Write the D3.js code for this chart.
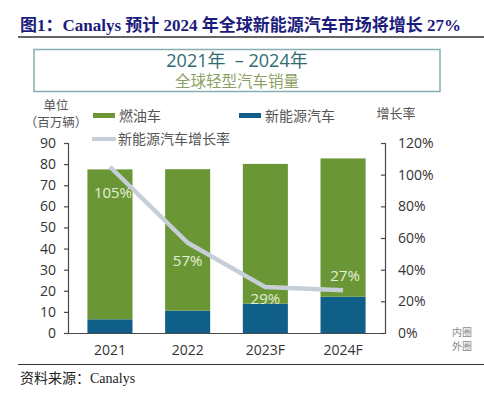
<!DOCTYPE html>
<html>
<head>
<meta charset="utf-8">
<script src="https://cdn.jsdelivr.net/npm/d3@7"></script>
<style>
  html, body { margin: 0; padding: 0; background: #fff; }
  svg { display: block; }
</style>
</head>
<body>
<div id="container"></div>
<script>
const width = 484
const height = 396

// data
const years = ['2021', '2022', '2023F', '2024F']
const fuelCars = [71, 67, 66.2, 65.5]   // 燃油车 (stacked on top of NEV)
const nevCars = [6.5, 10.6, 13.9, 17.2] // 新能源汽车
const nevGrowth = [105, 57, 29, 27]     // 新能源汽车增长率 %
const leftTicks = [0, 10, 20, 30, 40, 50, 60, 70, 80, 90]
const rightTicks = [0, 20, 40, 60, 80, 100, 120]

const green = '#6b9636'
const blue = '#105f88'
const lineColor = '#c6cfd8'
const cjk = '"Open Sans", "Noto Sans CJK SC", sans-serif'

const svg = d3.select('#container')
  .append('svg')
  .attr('width', width)
  .attr('height', height)

// header
svg.append('text')
  .attr('x', 20)
  .attr('y', 31)
  .attr('font-family', '"Liberation Serif", "Noto Sans CJK SC", serif')
  .attr('font-weight', 'bold')
  .attr('font-size', 17)
  .attr('fill', '#1c1c7c')
  .text('图1：Canalys 预计 2024 年全球新能源汽车市场将增长 27%')

svg.append('line')
  .attr('x1', 18).attr('x2', width)
  .attr('y1', 37).attr('y2', 37)
  .attr('stroke', '#333').attr('stroke-width', 1.5)

// boxed chart title
svg.append('rect')
  .attr('x', 34).attr('y', 49.5)
  .attr('width', 406).attr('height', 42)
  .attr('fill', 'none')
  .attr('stroke', '#86aeb0')
  .attr('stroke-width', 1.5)

svg.append('text')
  .attr('x', 237).attr('y', 66.5)
  .attr('text-anchor', 'middle')
  .attr('font-family', cjk)
  .attr('font-size', 18)
  .attr('fill', '#2f6c72')
  .attr('xml:space', 'preserve')
  .text('2021年  – 2024年')

svg.append('text')
  .attr('x', 237).attr('y', 86.5)
  .attr('text-anchor', 'middle')
  .attr('font-family', cjk)
  .attr('font-size', 15.5)
  .attr('fill', '#8d9f63')
  .text('全球轻型汽车销量')

// scales
const plotLeft = 68
const plotRight = 385
const plotBottom = 333
const plotTop = 143

const x = d3.scaleBand()
  .domain(years)
  .range([plotLeft, plotRight])
  .paddingInner(0.42)
  .paddingOuter(0.25)

const y = d3.scaleLinear().domain([0, 90]).range([plotBottom, plotTop])
const yR = d3.scaleLinear().domain([0, 120]).range([plotBottom, plotTop])

// stacked bars
const rows = years.map((yr, i) => ({ year: yr, nev: nevCars[i], fuel: fuelCars[i] }))
const stack = d3.stack().keys(['nev', 'fuel'])(rows)
const colors = { nev: blue, fuel: green }

svg.append('g')
  .selectAll('g')
  .data(stack)
  .join('g')
  .attr('fill', d => colors[d.key])
  .selectAll('rect')
  .data(d => d)
  .join('rect')
  .attr('x', d => x(d.data.year))
  .attr('y', d => y(d[1]))
  .attr('width', x.bandwidth())
  .attr('height', d => y(d[0]) - y(d[1]))

// axes
const axisColor = '#4a4a4a'
const styleAxis = g => {
  g.selectAll('path, line').attr('stroke', axisColor).attr('stroke-width', 1.2)
  g.selectAll('text')
    .attr('font-family', cjk)
    .attr('font-size', 14)
    .attr('fill', '#333')
}

svg.append('g')
  .attr('transform', `translate(${plotLeft},0)`)
  .call(d3.axisLeft(y).tickValues(leftTicks).tickSize(4).tickPadding(8))
  .call(styleAxis)

svg.append('g')
  .attr('transform', `translate(${plotRight},0)`)
  .call(d3.axisRight(yR).tickValues(rightTicks).tickSizeInner(-4).tickSizeOuter(-4)
    .tickPadding(13).tickFormat(d => d + '%'))
  .call(styleAxis)

svg.append('g')
  .attr('transform', `translate(0,${plotBottom})`)
  .call(d3.axisBottom(x).tickSize(0).tickPadding(12))
  .call(styleAxis)
  .call(g => g.select('.domain').attr('d', `M${plotLeft},0.5H${plotRight}`))

// growth line
const cx = yr => x(yr) + x.bandwidth() / 2

svg.append('path')
  .datum(nevGrowth)
  .attr('fill', 'none')
  .attr('stroke', lineColor)
  .attr('stroke-width', 4.5)
  .attr('stroke-linejoin', 'round')
  .attr('d', d3.line()
    .x((d, i) => cx(years[i]))
    .y(d => yR(d)))

// growth labels
const labelShift = [[3, 31], [0, 23], [0, 17], [2, -9]]

svg.append('g')
  .selectAll('text')
  .data(nevGrowth)
  .join('text')
  .attr('x', (d, i) => cx(years[i]) + labelShift[i][0])
  .attr('y', (d, i) => yR(d) + labelShift[i][1])
  .attr('text-anchor', 'middle')
  .attr('font-family', cjk)
  .attr('font-size', 15)
  .attr('fill', '#e4f0d6')
  .text(d => d + '%')

// units and legend
const small = (tx, ty, str, anchor = 'middle', size = 13, fill = '#555') =>
  svg.append('text')
    .attr('x', tx).attr('y', ty)
    .attr('text-anchor', anchor)
    .attr('font-family', cjk)
    .attr('font-size', size)
    .attr('fill', fill)
    .text(str)

small(56, 110, '单位', 'middle', 12.5)
small(56, 127, '（百万辆）', 'middle', 12.5)
small(396, 118, '增长率')

const legend = [
  { label: '燃油车', color: green, lx: 93, ly: 115.5, kind: 'rect' },
  { label: '新能源汽车', color: blue, lx: 239, ly: 115.5, kind: 'rect' },
  { label: '新能源汽车增长率', color: lineColor, lx: 92, ly: 139, kind: 'line' }
]

legend.forEach(l => {
  if (l.kind === 'rect') {
    svg.append('rect')
      .attr('x', l.lx).attr('y', l.ly - 2.5)
      .attr('width', 22).attr('height', 5)
      .attr('fill', l.color)
  } else {
    svg.append('line')
      .attr('x1', l.lx).attr('x2', l.lx + 24)
      .attr('y1', l.ly).attr('y2', l.ly)
      .attr('stroke', l.color).attr('stroke-width', 4)
  }
  small(l.lx + 26, l.ly + 5, l.label, 'start', 14)
})

small(452, 336, '内圈', 'start', 10, '#888')
small(452, 350, '外圈', 'start', 10, '#888')

// footer
svg.append('line')
  .attr('x1', 18).attr('x2', width)
  .attr('y1', 364.5).attr('y2', 364.5)
  .attr('stroke', '#333').attr('stroke-width', 1.2)

svg.append('text')
  .attr('x', 20).attr('y', 383)
  .attr('font-family', '"Liberation Serif", "Noto Sans CJK SC", serif')
  .attr('font-size', 14)
  .attr('fill', '#222')
  .text('资料来源：Canalys')
</script>
</body>
</html>
